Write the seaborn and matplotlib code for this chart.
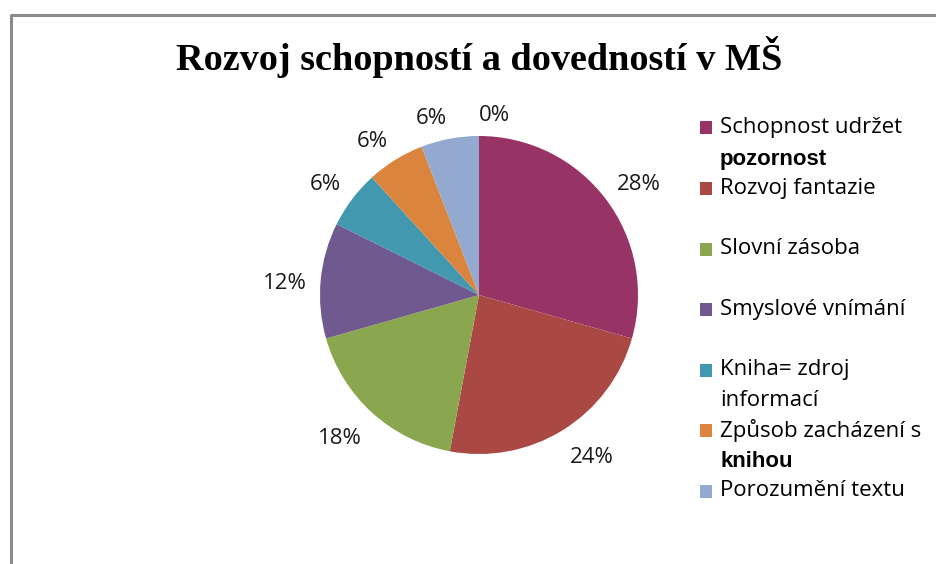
import matplotlib
matplotlib.use("Agg")
import matplotlib.pyplot as plt
import seaborn as sns
from matplotlib.patches import Rectangle
from matplotlib.lines import Line2D

# ---- data ----
categories = ["Schopnost udržet pozornost", "Rozvoj fantazie", "Slovní zásoba",
              "Smyslové vnímání", "Kniha= zdroj informací",
              "Způsob zacházení s knihou", "Porozumění textu", ""]
values = [5, 4, 3, 2, 1, 1, 1, 0]
pct_labels = ["28%", "24%", "18%", "12%", "6%", "6%", "6%", "0%"]
# legend lines: (first line, second line)
legend_lines = [("Schopnost udržet", "pozornost"), ("Rozvoj fantazie", None),
                ("Slovní zásoba", None), ("Smyslové vnímání", None),
                ("Kniha= zdroj", "informací"), ("Způsob zacházení s", "knihou"),
                ("Porozumění textu", None)]
legend_second_bold = [True, False, False, False, False, True, False]
title = "Rozvoj schopností a dovedností v MŠ"

colors = ["#983366", "#AA4944", "#8AA64E", "#70598F", "#4299AF", "#DB843D", "#93A9CF", "#C0C0C0"]

sns.set_theme(style="white")
plt.rcParams['font.family'] = ['Open Sans', 'DejaVu Sans']

W, H = 936, 564
fig = plt.figure(figsize=(W / 100, H / 100), dpi=100)
fig.patch.set_facecolor("white")

# pie axes: centre (479,295) px, radius 159 px
R = 159
span = 2.5
cx, cy = 479, 295
axw = R * span
ax = fig.add_axes([(cx - axw / 2) / W, (H - cy - axw / 2) / H, axw / W, axw / H])
wedges, texts = ax.pie(values, labels=pct_labels, colors=colors, startangle=90,
                       counterclock=False, labeldistance=1.09,
                       wedgeprops=dict(linewidth=0),
                       textprops=dict(fontsize=16, color="#1a1a1a",
                                      family=["Open Sans", "DejaVu Sans"]))
# Excel-like label placement: keep labels fully outside the circle
for t in texts:
    x, y = t.get_position()
    if y < -0.3:
        t.set_verticalalignment("top")
    elif y > 0.3:
        t.set_verticalalignment("bottom")
    t.set_position((x, y - 0.03))
ax.set_xlim(-span / 2, span / 2)
ax.set_ylim(-span / 2, span / 2)
ax.set_aspect("equal")
ax.axis("off")

# title
fig.text(cx / W, 1 - 57 / H, title, ha="center", va="center", fontsize=27.5,
         fontweight="bold", family=["Liberation Serif", "DejaVu Serif"], color="black")

# legend (manual)
y0 = 128
step = 60.5
for i, (line1, line2) in enumerate(legend_lines):
    yc = y0 + i * step
    fig.patches.append(Rectangle((700 / W, 1 - (yc + 6.5) / H), 12 / W, 13 / H,
                                 transform=fig.transFigure, facecolor=colors[i],
                                 edgecolor="none"))
    fig.text(720 / W, 1 - yc / H, line1, ha="left", va="center", fontsize=16,
             color="black")
    if line2:
        if legend_second_bold[i]:
            fig.text(720 / W, 1 - (yc + 31) / H, line2, ha="left", va="center",
                     fontsize=16, fontweight="bold",
                     family=["Liberation Sans", "DejaVu Sans"], color="black")
        else:
            fig.text(720 / W, 1 - (yc + 31) / H, line2, ha="left", va="center",
                     fontsize=16, color="black")

# frame border (top and left)
fig.lines.append(Line2D([10.5 / W, 10.5 / W, 1.0], [0.0, 1 - 14.5 / H, 1 - 14.5 / H],
                        transform=fig.transFigure, color="#8a8a8a", linewidth=2.2))

fig.savefig("out.png", dpi=100, facecolor="white")
